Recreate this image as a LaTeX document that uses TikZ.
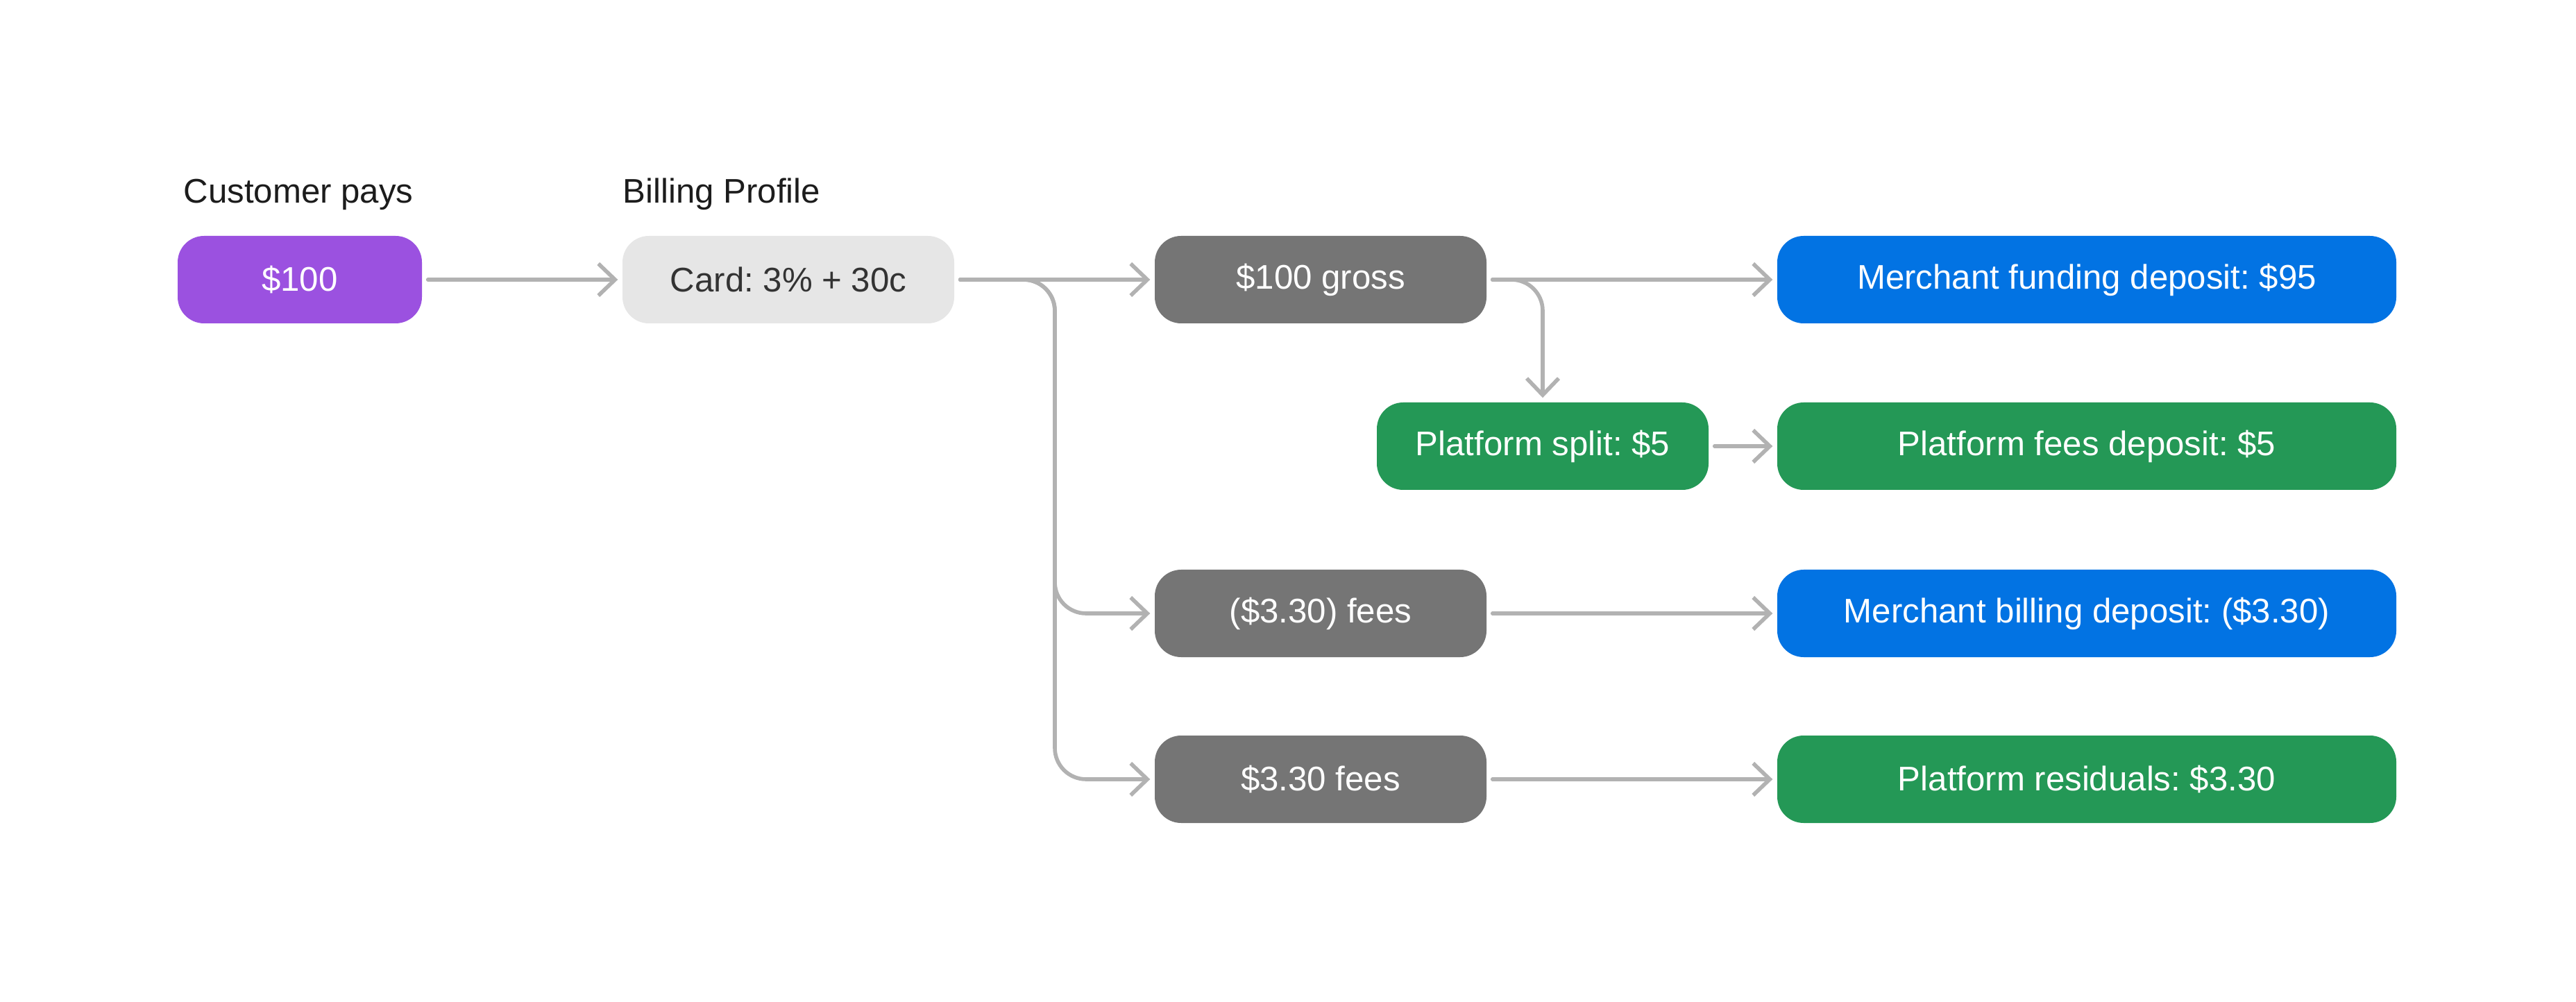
\documentclass[tikz,border=0pt]{standalone}
\usepackage{fontspec}
\setmainfont{Liberation Sans}
\usetikzlibrary{calc}
\usetikzlibrary{arrows.meta}
\definecolor{paypurple}{RGB}{155,81,224}
\definecolor{cardgrey}{RGB}{230,230,230}
\definecolor{splitgrey}{RGB}{117,117,117}
\definecolor{depblue}{RGB}{2,115,227}
\definecolor{depgreen}{RGB}{36,152,86}
\definecolor{linegrey}{RGB}{178,178,178}
\definecolor{labelblack}{RGB}{28,28,28}
\frenchspacing
\tikzstyle{box}=[rounded corners=0.38cm, minimum height=1.26cm, inner sep=0pt, text=white, font=\fontsize{14}{16}\selectfont]
\tikzstyle{smallbox}=[box, minimum width=4.78cm]
\tikzstyle{widebox}=[box, minimum width=8.92cm]
\tikzstyle{heading}=[anchor=base west, text=labelblack, font=\fontsize{14}{16}\selectfont]
\tikzstyle{flow}=[draw=linegrey, line width=1.6pt, line cap=round, -{Straight Barb[length=0.24cm,width=0.46cm]}, shorten >=0.06cm, shorten <=0.08cm]

\begin{document}
\begin{tikzpicture}
\useasboundingbox (0,0) rectangle (37.12,-14.44);
% first column
\node[box, fill=paypurple, minimum width=3.52cm] (pay) at (4.32,-4.03) {\$100};
\node[smallbox, fill=cardgrey, text={rgb,255:red,51;green,51;blue,51}] (card) at (11.36,-4.03) {Card: 3\% + 30c};
\node[heading] (paylabel) at ($(pay.north west)+(-0.03,0.47)$) {Customer pays};
\node[heading] (cardlabel) at ($(card.north west)+(-0.11,0.47)$) {Billing Profile};
% split column
\node[smallbox, fill=splitgrey] (gross) at (19.03,-4.03) {\$100 gross};
\node[smallbox, fill=depgreen] (split) at (22.23,-6.43) {Platform split: \$5};
\node[smallbox, fill=splitgrey] (mfees) at (19.03,-8.84) {(\$3.30) fees};
\node[smallbox, fill=splitgrey] (pfees) at (19.03,-11.23) {\$3.30 fees};
% deposits
\node[widebox, fill=depblue] (funding) at (30.07,-4.03) {Merchant funding deposit: \$95};
\node[widebox, fill=depgreen] (feedep) at (30.07,-6.43) {Platform fees deposit: \$5};
\node[widebox, fill=depblue] (billing) at (30.07,-8.84) {Merchant billing deposit: (\$3.30)};
\node[widebox, fill=depgreen] (residuals) at (30.07,-11.23) {Platform residuals: \$3.30};
\coordinate (trunkA) at (15.2,-8.84);
\coordinate (trunkB) at (15.2,-11.23);

\draw[flow] (pay) -- (card);
\draw[flow] (card) -- (gross);
\draw[flow, rounded corners=0.45cm] (card.east) -| (trunkA) -- (mfees.west);
\draw[flow, rounded corners=0.45cm] (card.east) -| (trunkB) -- (pfees.west);
\draw[flow] (gross) -- (funding);
\draw[flow, rounded corners=0.45cm] (gross.east) -| (split.north);
\draw[flow] (split) -- (feedep);
\draw[flow] (mfees) -- (billing);
\draw[flow] (pfees) -- (residuals);
\end{tikzpicture}
\end{document}
